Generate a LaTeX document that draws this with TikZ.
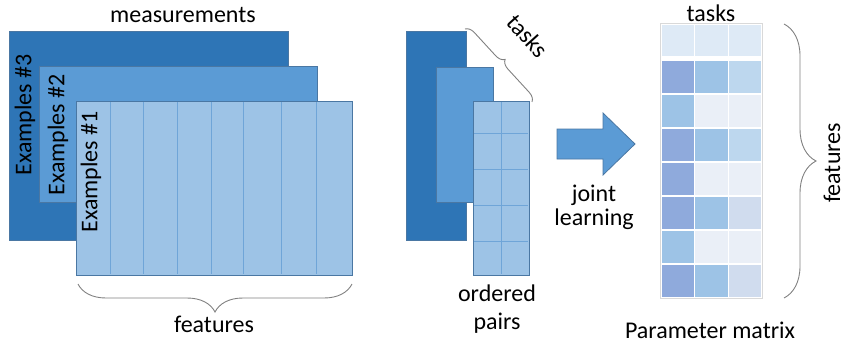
\documentclass[tikz,border=0pt]{standalone}
\usepackage{fontspec}
\setmainfont{Carlito}
\usetikzlibrary{decorations.pathreplacing}

\definecolor{sheetdark}{HTML}{2E75B6}
\definecolor{sheetmid}{HTML}{5B9BD5}
\definecolor{sheetlight}{HTML}{9DC3E6}
\definecolor{sheetedge}{HTML}{4A77A3}
\definecolor{gridline}{HTML}{6FA5D8}
\definecolor{bracegray}{HTML}{808080}
\definecolor{cA}{HTML}{DEEAF6}
\definecolor{cB}{HTML}{8FAADC}
\definecolor{cC}{HTML}{9DC3E6}
\definecolor{cD}{HTML}{BDD7EE}
\definecolor{cE}{HTML}{EAEFF7}
\definecolor{cF}{HTML}{D0DCEE}

\tikzset{
  darksheet/.style={fill=sheetdark, draw=sheetedge, line width=0.8pt},
  midsheet/.style={fill=sheetmid, draw=sheetedge, line width=0.8pt},
  lightsheet/.style={fill=sheetlight, draw=sheetedge, line width=0.8pt},
  grid line/.style={draw=gridline, line width=0.8pt},
  label/.style={font=\fontsize{24}{27}\selectfont, text=black, inner sep=0pt},
  bracket/.style={draw=bracegray, line width=0.9pt, decorate},
  cell/.style={draw=white, line width=1.3pt},
  blockarrow/.style={fill=sheetmid, draw=sheetedge, line width=0.8pt}
}

\begin{document}
\begin{tikzpicture}[x=1pt, y=-1pt]
  \useasboundingbox (0,0) rectangle (845,345);

  % ---- stacked example sheets ----
  \draw[darksheet]  (9,31)   rectangle (288,240);
  \draw[midsheet]   (39,66)  rectangle (317,202);
  \draw[lightsheet] (76,101) rectangle (352,275);
  \foreach \x in {110,143,177,211,243,281,316}
    \draw[grid line] (\x,102) -- (\x,274);
  \draw[sheetedge, line width=0.8pt] (76,101) rectangle (352,275);

  \node[label, rotate=90] (ex3) at (25,115) {Examples \#3};
  \node[label, rotate=90] (ex2) at (58,135) {Examples \#2};
  \node[label, rotate=90] (ex1) at (91,172) {Examples \#1};

  \node[label] (meas) at (183,15) {measurements};

  \coordinate (fbR) at (352,284);
  \coordinate (fbL) at (78,284);
  \draw[bracket, decoration={brace, amplitude=28pt}] (fbR) -- (fbL);
  \node[label] (feat) at (214,324) {features};

  % ---- ordered pairs per task ----
  \draw[darksheet]  (406,31)  rectangle (466,240);
  \draw[midsheet]   (436,67)  rectangle (493,202);
  \draw[lightsheet] (473,101) rectangle (529,275);
  \draw[grid line] (501,102) -- (501,274);
  \foreach \y in {133,169,205,241}
    \draw[grid line] (474,\y) -- (528,\y);
  \draw[sheetedge, line width=0.8pt] (473,101) rectangle (529,275);

  \coordinate (tbA) at (465,29);
  \coordinate (tbB) at (532,102);
  \draw[bracket, decoration={brace, amplitude=9pt}] (tbA) -- (tbB);
  \node[label, rotate=-48] (tasksA) at (528,36) {tasks};

  \node[label, align=center, font=\fontsize{24}{28}\selectfont] (pairs) at (497,309) {ordered\\pairs};

  % ---- joint learning arrow ----
  \draw[blockarrow] (557,129) -- (603,129) -- (603,113) -- (635,144)
                    -- (603,175) -- (603,159) -- (557,159) -- cycle;
  \node[label, align=center, font=\fontsize{24}{24}\selectfont] (joint) at (594,207) {joint\\learning};

  % ---- parameter matrix ----
  \foreach \c [count=\i from 0] in {cA,cA,cA}
    \filldraw[cell, fill=\c] (661+\i*33.67,24) rectangle ++(33.67,33);
  \foreach \row [count=\j from 0] in {
      {cB,cC,cD},{cC,cE,cE},{cB,cC,cD},{cB,cE,cE},
      {cB,cC,cF},{cC,cE,cE},{cB,cC,cF}} {
    \foreach \c [count=\i from 0] in \row
      \filldraw[cell, fill=\c] (661+\i*33.67,60+\j*34) rectangle ++(33.67,34);
  }
  \draw[black!15, line width=0.6pt] (660.5,23.5) rectangle (762.5,298.5);

  \node[label] (tasksB) at (711,13) {tasks};

  \coordinate (rbT) at (784,24);
  \coordinate (rbB) at (784,298);
  \draw[bracket, decoration={brace, amplitude=32pt}] (rbT) -- (rbB);
  \node[label, rotate=90] (featR) at (832,163) {features};

  \node[label] (pm) at (710,330) {Parameter matrix};
\end{tikzpicture}
\end{document}
